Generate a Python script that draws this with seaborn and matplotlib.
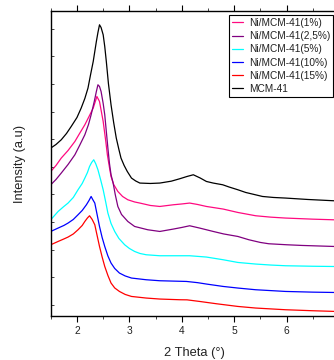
import numpy as np
import pandas as pd
import seaborn as sns
import matplotlib.pyplot as plt

# values (2 theta in degrees, intensity in arbitrary units)
x_mcm = [1.5, 1.6, 1.70, 1.8, 1.89, 2.0, 2.08, 2.15, 2.21, 2.26, 2.31, 2.34, 2.37, 2.40, 2.43,
         2.46, 2.50, 2.53, 2.56, 2.60, 2.65, 2.70, 2.75, 2.80, 2.84, 2.90, 2.96, 3.04, 3.12,
         3.20, 3.4, 3.58, 3.8, 3.96, 4.1, 4.22, 4.35, 4.47, 4.6, 4.78, 4.9, 5.07, 5.22, 5.38,
         5.54, 5.75, 5.98, 6.4, 6.9, 7.0]
y_mcm = [168.4, 172, 176.7, 183, 190, 199, 208.4, 218, 228.4, 242, 255, 265, 275, 284, 291.7,
         289, 281.7, 270, 255, 233, 211.7, 194, 178.4, 167, 158.4, 151, 145, 138.4, 135.5,
         133.4, 133, 133.4, 135.3, 137.7, 140, 141.7, 138.5, 135, 133.4, 131.7, 129.5, 126.7, 124, 122,
         120, 119, 118.4, 117, 115.7, 115.2]

x_ni1 = [1.5, 1.6, 1.7, 1.83, 1.96, 2.05, 2.15, 2.23, 2.31, 2.35, 2.38, 2.43, 2.50, 2.55,
         2.58, 2.62, 2.65, 2.70, 2.78, 2.87, 2.97, 3.1, 3.2, 3.4, 3.58, 3.84, 4.0, 4.15, 4.3,
         4.47, 4.79, 5.07, 5.41, 5.7, 5.98, 6.5, 7.0]
y_ni1 = [145, 151, 158.4, 166, 175, 183, 191.7, 200, 208.4, 215, 220, 215, 195, 175,
         161.7, 149, 140, 132, 125, 120, 116.7, 114.5, 113.4, 111, 110, 111.7, 112.5, 113.4, 112,
         110, 107.4, 104, 100.7, 99.3, 98.4, 97.3, 96.5]

x_ni25 = [1.5, 1.6, 1.70, 1.83, 1.96, 2.05, 2.15, 2.22, 2.27, 2.33, 2.37, 2.40, 2.43, 2.46,
          2.50, 2.53, 2.56, 2.59, 2.62, 2.65, 2.69, 2.73, 2.78, 2.85, 2.97, 3.1, 3.35, 3.58,
          3.84, 4.0, 4.15, 4.34, 4.60, 4.8, 5.07, 5.28, 5.5, 5.66, 6.0, 6.30, 6.9, 7.0]
y_ni25 = [131.7, 137, 143.4, 152, 161.7, 171, 181.7, 192, 201.7, 215, 225, 231.7, 230, 225,
          213, 201.7, 185, 168.4, 153, 141.7, 133.4, 122, 110, 102, 95, 90, 86.7, 85,
          87.4, 89, 90.7, 88.4, 85, 82.5, 80, 76.7, 74, 72.7, 71.7, 71, 70, 69.8]

x_ni5 = [1.5, 1.64, 1.75, 1.83, 1.93, 2.02, 2.1, 2.15, 2.2, 2.24, 2.28, 2.32, 2.36, 2.40,
         2.45, 2.50, 2.55, 2.59, 2.65, 2.72, 2.8, 2.91, 3.0, 3.10, 3.2, 3.32, 3.58, 3.9, 4.15,
         4.47, 4.79, 5.07, 5.41, 5.7, 5.98, 6.5, 7.0]
y_ni5 = [96.7, 105, 110, 113.4, 119, 126.7, 133, 138.4, 144, 150, 154, 156.7, 152.5, 146.7,
         137, 126.7, 114, 103.4, 93, 85, 78, 71.7, 68, 65, 63, 61.7, 60.7, 60.7, 60.7,
         59.4, 56.7, 54, 52.4, 51.4, 50.7, 50.2, 49.9]

x_ni10 = [1.5, 1.64, 1.75, 1.83, 1.93, 2.02, 2.1, 2.18, 2.23, 2.27, 2.30, 2.34, 2.38, 2.43,
          2.48, 2.53, 2.59, 2.65, 2.72, 2.81, 2.92, 3.04, 3.32, 3.58, 4.09, 4.3, 4.47, 4.79,
          5.07, 5.41, 5.98, 6.5, 7.0]
y_ni10 = [85, 88.4, 91, 93.4, 97, 101.7, 106, 111.7, 116, 120, 117, 113.4, 103, 90,
          79, 70, 60.5, 53.4, 48, 43.4, 40.5, 38.4, 36.7, 35.7, 35, 33.8, 32.4, 30,
          28.4, 26.7, 25, 24.3, 23.9]

x_ni15 = [1.5, 1.64, 1.75, 1.83, 1.93, 2.02, 2.1, 2.15, 2.2, 2.24, 2.29, 2.34, 2.38, 2.43,
          2.48, 2.53, 2.59, 2.65, 2.72, 2.81, 2.92, 3.04, 3.32, 3.58, 3.96, 4.1, 4.34, 4.66,
          5.07, 5.41, 5.98, 6.5, 7.0]
y_ni15 = [71.7, 75, 77.5, 79.4, 82.5, 86.7, 91, 95, 98.5, 100.7, 97, 91.7, 82, 70,
          59.5, 50, 41, 33.4, 28.5, 25, 22, 20, 18.4, 17.4, 16.7, 16.6, 15, 12.7,
          10, 8.4, 6.7, 5.7, 4.9]

labels = ["Ni/MCM-41(1%)", "Ni/MCM-41(2,5%)", "Ni/MCM-41(5%)",
          "Ni/MCM-41(10%)", "Ni/MCM-41(15%)", "MCM-41"]
colors = ["#FF0A80", "#800080", "#00FFFF", "#0000FF", "#FF0000", "#000000"]
series = [(x_ni1, y_ni1), (x_ni25, y_ni25), (x_ni5, y_ni5),
          (x_ni10, y_ni10), (x_ni15, y_ni15), (x_mcm, y_mcm)]

sns.set_style("ticks")
plt.rcParams['font.family'] = ['Liberation Sans', 'DejaVu Sans']

fig = plt.figure(figsize=(3.34, 3.6), dpi=100)
ax = fig.add_axes([0.152, 0.121, 0.863, 0.849])

for (xs, ys), lab, col in zip(series, labels, colors):
    df = pd.DataFrame({"theta": xs, "intensity": ys})
    sns.lineplot(data=df, x="theta", y="intensity", color=col, label=lab,
                 linewidth=0.9, sort=False, estimator=None, ax=ax)

ax.set_xlim(1.5, 7.0)
ax.set_ylim(0, 305.7)
ax.set_xticks([2, 3, 4, 5, 6])
ax.set_xticks(np.arange(1.5, 7.01, 0.5), minor=True)
ax.set_yticks(11.7 + 27.6 * np.arange(11))
ax.set_yticklabels([])
ax.tick_params(axis='x', which='major', direction='out', length=4, width=0.8,
               labelsize=7.4, pad=3, top=True, color='black', labelcolor='#222222')
ax.tick_params(axis='x', which='minor', direction='out', length=2, width=0.6, top=True)
ax.tick_params(axis='y', which='major', direction='in', length=2.5, width=0.6)
for s in ax.spines.values():
    s.set_linewidth(1.0)
    s.set_color('black')

ax.set_xlabel("2 Theta (°)", fontsize=9.3, labelpad=8, color='#222222')
ax.set_ylabel("Intensity (a.u)", fontsize=9.3, labelpad=14, color='#222222')

leg = ax.legend(loc='upper right', bbox_to_anchor=(0.979, 0.987), borderaxespad=0,
                fontsize=7.3, handlelength=1.0, handletextpad=0.6, labelspacing=0.32,
                borderpad=0.3, fancybox=False, framealpha=1, edgecolor='black')
leg.get_frame().set_linewidth(0.8)
for t in leg.get_texts():
    t.set_color('#222222')

fig.savefig("out.png", dpi=100)
